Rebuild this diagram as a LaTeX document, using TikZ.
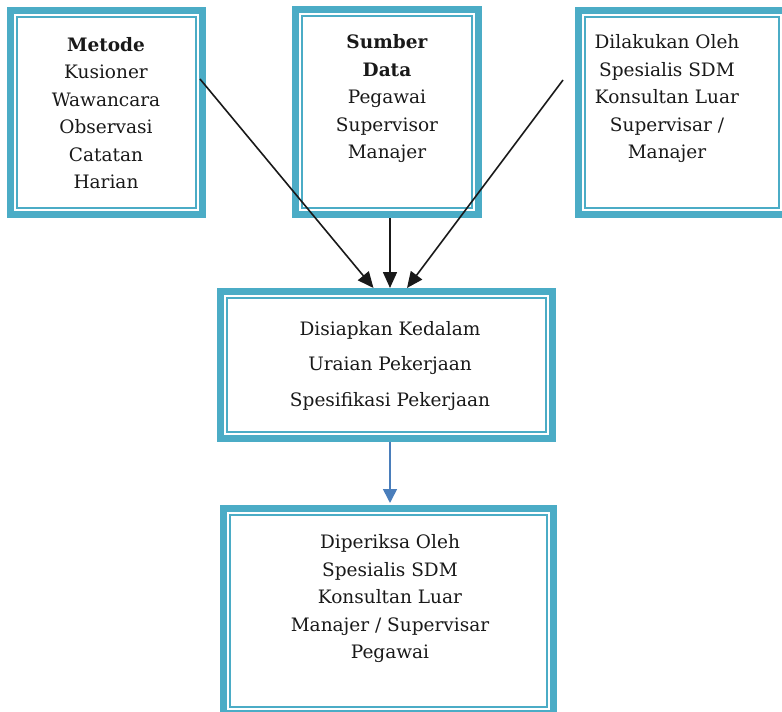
\documentclass[tikz,border=0pt]{standalone}
\usepackage{fontspec}
\setmainfont{DejaVu Serif}
\usetikzlibrary{arrows.meta}
\definecolor{tealc}{HTML}{4BACC6}
\definecolor{bluearr}{HTML}{4A7EBB}
\begin{document}
\begin{tikzpicture}[x=1pt,y=-1pt,
  box/.style={draw=tealc, line width=7pt, inner sep=0pt, outer sep=3.5pt, fill=white},
  inner/.style={draw=tealc, line width=1.5pt},
  txt/.style={align=center, font=\fontsize{18.5}{27.5}\selectfont, text=black!90, inner sep=0pt},
  arr/.style={draw=black!90, line width=1.6pt, -{Triangle[length=16pt,width=14pt]}},
  barr/.style={draw=bluearr, line width=1.6pt, -{Triangle[length=14pt,width=14pt]}}]
\useasboundingbox (0,0) rectangle (782,712);
\begin{scope}
\clip (0,0) rectangle (782,712);
\node[box, minimum width=192pt, minimum height=204pt] (b1) at (106.5,112.5) {};
\node[box, minimum width=183pt, minimum height=205pt] (b2) at (387,112) {};
\node[box, minimum width=207pt, minimum height=204pt] (b3) at (682,112.5) {};
\node[box, minimum width=332pt, minimum height=147pt] (b4) at (386.5,365) {};
\node[box, minimum width=330pt, minimum height=205pt] (b5) at (388.5,611) {};
\foreach \n in {b1,b2,b3,b4,b5}
  \draw[inner] ([xshift=10pt,yshift=-10pt]\n.north west) rectangle ([xshift=-10pt,yshift=10pt]\n.south east);
\end{scope}
\node[txt] (t1) at (106,113) {\textbf{Metode}\\Kusioner\\Wawancara\\Observasi\\Catatan\\Harian};
\node[txt] (t2) at (387,99) {\textbf{Sumber}\\\textbf{Data}\\Pegawai\\Supervisor\\Manajer};
\node[txt] (t3) at (667,99) {Dilakukan Oleh\\Spesialis SDM\\Konsultan Luar\\Supervisar /\\Manajer};
\node[txt, font=\fontsize{18.5}{35.5}\selectfont] (t4) at (390,366) {Disiapkan Kedalam\\Uraian Pekerjaan\\Spesifikasi Pekerjaan};
\node[txt] (t5) at (390,599) {Diperiksa Oleh\\Spesialis SDM\\Konsultan Luar\\Manajer / Supervisar\\Pegawai};
\coordinate (s1) at (200,79);
\coordinate (s3) at (563,80);
\draw[arr] (s1) -- ([xshift=-13pt]b4.north);
\draw[arr] (b2.south -| 390,0) -- ([xshift=3.5pt]b4.north);
\draw[arr] (s3) -- ([xshift=20.5pt]b4.north);
\draw[barr] (b4.south -| 390,0) -- ([yshift=2pt]b5.north -| 390,0);
\end{tikzpicture}
\end{document}
